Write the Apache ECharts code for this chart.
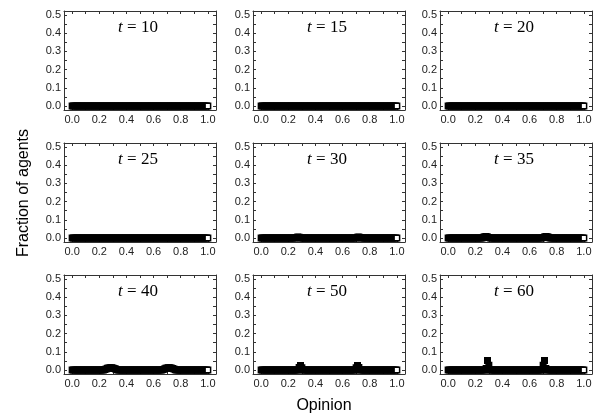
<!DOCTYPE html>
<html><head><meta charset="utf-8">
<script src="https://cdn.jsdelivr.net/npm/echarts@6/dist/echarts.min.js"></script>
<style>html,body{margin:0;padding:0;background:#fff}#c{width:601px;height:418px}</style>
</head><body><div id="c"></div>
<script>
// Opinion bins (x values)
const opinions = [
0,0.01,0.02,0.03,0.04,0.05,0.06,0.07,0.08,0.09,
0.1,0.11,0.12,0.13,0.14,0.15,0.16,0.17,0.18,0.19,
0.2,0.21,0.22,0.23,0.24,0.25,0.26,0.27,0.28,0.29,
0.3,0.31,0.32,0.33,0.34,0.35,0.36,0.37,0.38,0.39,
0.4,0.41,0.42,0.43,0.44,0.45,0.46,0.47,0.48,0.49,
0.5,0.51,0.52,0.53,0.54,0.55,0.56,0.57,0.58,0.59,
0.6,0.61,0.62,0.63,0.64,0.65,0.66,0.67,0.68,0.69,
0.7,0.71,0.72,0.73,0.74,0.75,0.76,0.77,0.78,0.79,
0.8,0.81,0.82,0.83,0.84,0.85,0.86,0.87,0.88,0.89,
0.9,0.91,0.92,0.93,0.94,0.95,0.96,0.97,0.98,0.99,
1];

const times = [10, 15, 20, 25, 30, 35, 40, 50, 60];

const frac_t10 = [
0,0,0,0,0,0,0,0,0,0, 0,0,0,0,0,0,0,0,0,0, 0,0,0,0,0,0,0,0,0,0, 0,0,0,0,0,0,0,0,0,0,
0,0,0,0,0,0,0,0,0,0, 0,0,0,0,0,0,0,0,0,0, 0,0,0,0,0,0,0,0,0,0, 0,0,0,0,0,0,0,0,0,0,
0,0,0,0,0,0,0,0,0,0, 0,0,0,0,0,0,0,0,0,0, 0];
const frac_t15 = [
0,0,0,0,0,0,0,0,0,0, 0,0,0,0,0,0,0,0,0,0, 0,0,0,0,0,0,0,0,0,0, 0,0,0,0,0,0,0,0,0,0,
0,0,0,0,0,0,0,0,0,0, 0,0,0,0,0,0,0,0,0,0, 0,0,0,0,0,0,0,0,0,0, 0,0,0,0,0,0,0,0,0,0,
0,0,0,0,0,0,0,0,0,0, 0,0,0,0,0,0,0,0,0,0, 0];
const frac_t20 = [
0,0,0,0,0,0,0,0,0,0, 0,0,0,0,0,0,0,0,0,0, 0,0,0,0,0,0,0,0,0,0, 0,0,0,0,0,0,0,0,0,0,
0,0,0,0,0,0,0,0,0,0, 0,0,0,0,0,0,0,0,0,0, 0,0,0,0,0,0,0,0,0,0, 0,0,0,0,0,0,0,0,0,0,
0,0,0,0,0,0,0,0,0,0, 0,0,0,0,0,0,0,0,0,0, 0];
const frac_t25 = [
0,0,0,0,0,0,0,0,0,0, 0,0,0,0,0,0,0,0,0,0, 0,0,0,0,0,0,0,0,0,0, 0,0,0,0,0,0,0,0,0,0,
0,0,0,0,0,0,0,0,0,0, 0,0,0,0,0,0,0,0,0,0, 0,0,0,0,0,0,0,0,0,0, 0,0,0,0,0,0,0,0,0,0,
0,0,0,0,0,0,0,0,0,0, 0,0,0,0,0,0,0,0,0,0, 0];
const frac_t30 = [
0,0,0,0,0,0,0,0,0,0, 0,0,0,0,0,0,0,0,0,0, 0,0,0,0,0,0,0.003,0.006,0.004,0, 0,0,0,0,0,0,0,0,0,0,
0,0,0,0,0,0,0,0,0,0, 0,0,0,0,0,0,0,0,0,0, 0,0,0,0,0,0,0,0,0,0, 0,0.004,0.006,0.003,0,0,0,0,0,0,
0,0,0,0,0,0,0,0,0,0, 0,0,0,0,0,0,0,0,0,0, 0];
const frac_t35 = [
0,0,0,0,0,0,0,0,0,0, 0,0,0,0,0,0,0,0,0,0, 0,0,0,0,0,0,0.004,0.007,0.008,0.006, 0.003,0,0,0,0,0,0,0,0,0,
0,0,0,0,0,0,0,0,0,0, 0,0,0,0,0,0,0,0,0,0, 0,0,0,0,0,0,0,0,0,0, 0.003,0.006,0.008,0.007,0.004,0,0,0,0,0,
0,0,0,0,0,0,0,0,0,0, 0,0,0,0,0,0,0,0,0,0, 0];
const frac_t40 = [
0,0,0,0,0,0,0,0,0,0, 0,0,0,0,0,0,0,0,0,0, 0,0,0,0,0.003,0.006,0.009,0.011,0.012,0.012, 0.011,0.008,0.005,0.002,0,0,0,0,0,0,
0,0,0,0,0,0,0,0,0,0, 0,0,0,0,0,0,0,0,0,0, 0,0,0,0,0,0,0,0.003,0.006,0.009, 0.011,0.012,0.012,0.011,0.008,0.005,0.002,0,0,0,
0,0,0,0,0,0,0,0,0,0, 0,0,0,0,0,0,0,0,0,0, 0];
const frac_t50 = [
0,0,0,0,0,0,0,0,0,0, 0,0,0,0,0,0,0,0,0,0, 0,0,0,0,0,0,0,0,0.014,0.025, 0.012,0,0,0,0,0,0,0,0,0,
0,0,0,0,0,0,0,0,0,0, 0,0,0,0,0,0,0,0,0,0, 0,0,0,0,0,0,0,0,0,0, 0.012,0.025,0.014,0,0,0,0,0,0,0,
0,0,0,0,0,0,0,0,0,0, 0,0,0,0,0,0,0,0,0,0, 0];
const frac_t60 = [
0,0,0,0,0,0,0,0,0,0, 0,0,0,0,0,0,0,0,0,0, 0,0,0,0,0,0,0,0,0.008,0.052, 0.026,0,0,0,0,0,0,0,0,0,
0,0,0,0,0,0,0,0,0,0, 0,0,0,0,0,0,0,0,0,0, 0,0,0,0,0,0,0,0,0,0, 0.026,0.052,0.008,0,0,0,0,0,0,0,
0,0,0,0,0,0,0,0,0,0, 0,0,0,0,0,0,0,0,0,0, 0];

const fractions = [frac_t10, frac_t15, frac_t20, frac_t25, frac_t30, frac_t35, frac_t40, frac_t50, frac_t60];

const xTickLabels = [0, 0.2, 0.4, 0.6, 0.8, 1.0];
const xTicks = [0, 0.1, 0.2, 0.3, 0.4, 0.5, 0.6, 0.7, 0.8, 0.9, 1.0];
const yTickLabels = [0, 0.1, 0.2, 0.3, 0.4, 0.5];
const yTicks = [0, 0.05, 0.1, 0.15, 0.2, 0.25, 0.3, 0.35, 0.4, 0.45, 0.5];

const colLefts = [64, 253, 440];
const rowTops = [11, 143, 275];
const gw = 152, gh = 99;
const X_MIN = -0.06, X_MAX = 1.06, Y_MIN = -0.022, Y_MAX = 0.522;

const chart = echarts.init(document.getElementById('c'), null, {renderer: 'canvas'});

const grids = [], xAxes = [], yAxes = [], series = [], graphics = [];
const lblStyle = {fontFamily: 'Liberation Sans, Arial, sans-serif', fontSize: 11, color: '#222'};
const lineC = '#333';

times.forEach((t, i) => {
  const r = Math.floor(i / 3), c = i % 3;
  grids.push({left: colLefts[c], top: rowTops[r], width: gw, height: gh,
    show: false, containLabel: false, outerBoundsMode: 'none'});
  const mk = (pos, mn, mx, ticks, labels, margin) => ({
    type: 'value', gridIndex: i, position: pos, min: mn, max: mx,
    axisLine: {show: true, onZero: false, lineStyle: {color: lineC, width: 1}},
    splitLine: {show: false},
    axisTick: {show: true, inside: true, length: 3, customValues: ticks, lineStyle: {color: lineC, width: 1}},
    axisLabel: labels ? Object.assign({show: true, customValues: labels, margin: margin,
      formatter: v => v.toFixed(1)}, lblStyle) : {show: false}
  });
  xAxes.push(mk('bottom', X_MIN, X_MAX, xTicks, xTickLabels, 4));
  xAxes.push(mk('top', X_MIN, X_MAX, xTicks, null, 4));
  yAxes.push(mk('left', Y_MIN, Y_MAX, yTicks, yTickLabels, 3));
  yAxes.push(mk('right', Y_MIN, Y_MAX, yTicks, null, 3));

  const last = opinions.length - 1;
  series.push({
    type: 'scatter', xAxisIndex: i * 2, yAxisIndex: i * 2,
    data: opinions.map((o, j) => [o, fractions[i][j]]),
    symbol: 'rect', symbolSize: 5.5, silent: true, animation: false,
    itemStyle: {color: p => (p.dataIndex === last ? '#fff' : '#000'), borderColor: '#000', borderWidth: 1.5, opacity: 1},
    emphasis: {disabled: true}
  });

  graphics.push({
    type: 'text', x: colLefts[c] + gw / 2 - 2, y: rowTops[r] + 17, silent: true,
    style: {
      text: '{i|t} = ' + t,
      textAlign: 'center', textVerticalAlign: 'middle', align: 'center', verticalAlign: 'middle',
      font: '17px "Liberation Serif", "Times New Roman", serif', fill: '#000',
      rich: {i: {fontStyle: 'italic', fontFamily: 'Liberation Serif, Times New Roman, serif', fontSize: 17, color: '#000'}}
    }
  });
});

graphics.push({
  type: 'text', x: 24, y: 193, rotation: Math.PI / 2, silent: true,
  style: {text: 'Fraction of agents', textAlign: 'center', textVerticalAlign: 'middle',
    align: 'center', verticalAlign: 'middle',
    font: '16px "Liberation Sans", Arial, sans-serif', fill: '#000'}
});
graphics.push({
  type: 'text', x: 324, y: 406, silent: true,
  style: {text: 'Opinion', textAlign: 'center', textVerticalAlign: 'middle',
    align: 'center', verticalAlign: 'middle',
    font: '16px "Liberation Sans", Arial, sans-serif', fill: '#000'}
});

chart.setOption({
  animation: false,
  backgroundColor: '#fff',
  grid: grids, xAxis: xAxes, yAxis: yAxes, series: series, graphic: graphics
});
</script></body></html>
